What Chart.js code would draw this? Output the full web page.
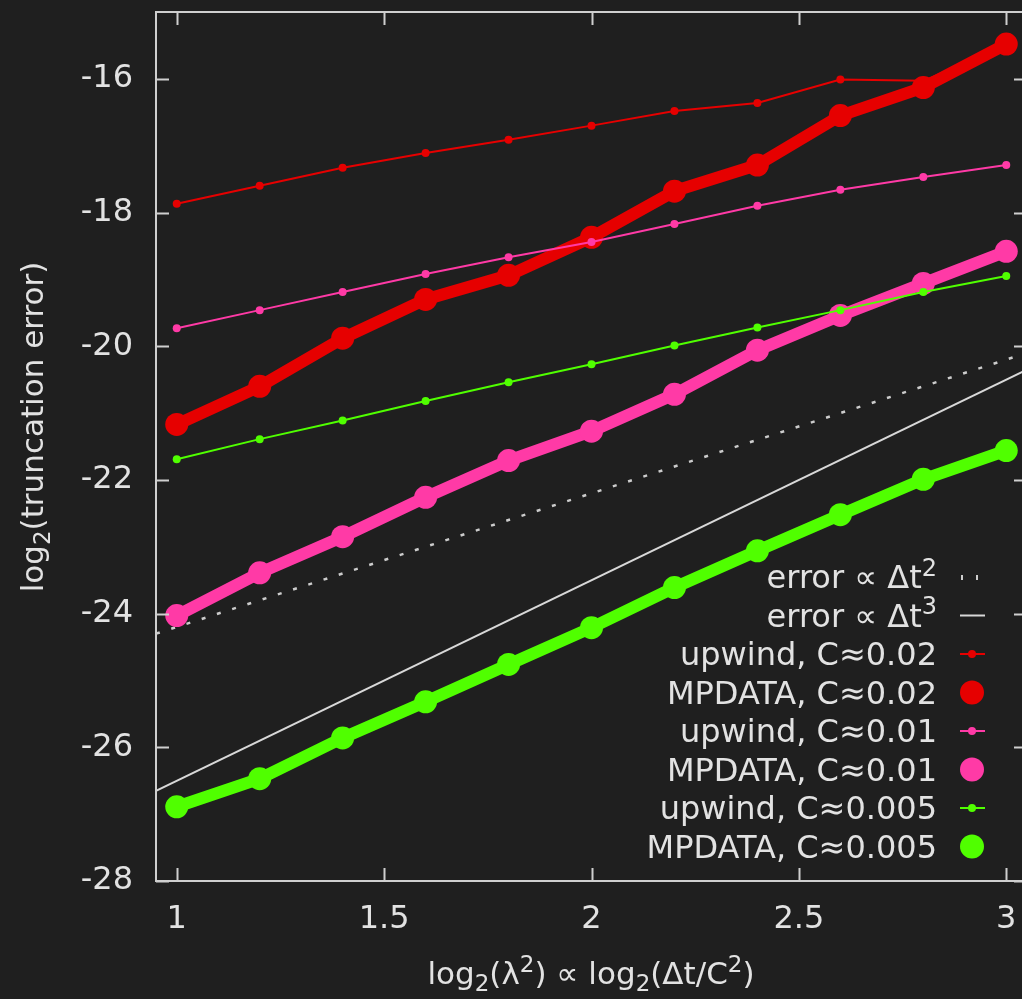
<!DOCTYPE html>
<html>
<head>
<meta charset="utf-8">
<script src="https://cdn.jsdelivr.net/npm/chart.js@4.4.0/dist/chart.umd.min.js"></script>
<style>
    html, body { margin: 0; padding: 0; background: #1f1f1f; overflow: hidden; }
    #wrap { width: 1040px; height: 999px; }
</style>
</head>
<body>
<div id="wrap"><canvas id="grafic" width="1040" height="999"></canvas></div>
<script>
// date
const xVals = [1, 1.2, 1.4, 1.6, 1.8, 2, 2.2, 2.4, 2.6, 2.8, 3];

const upwind002 = [-17.87, -17.60, -17.33, -17.11, -16.91, -16.70, -16.48, -16.36, -16.01, -16.03, -15.50];
const mpdata002 = [-21.17, -20.60, -19.88, -19.30, -18.94, -18.37, -17.68, -17.29, -16.55, -16.13, -15.48];
const upwind001 = [-19.73, -19.46, -19.19, -18.92, -18.67, -18.44, -18.17, -17.90, -17.66, -17.47, -17.29];
const mpdata001 = [-24.03, -23.39, -22.85, -22.26, -21.71, -21.27, -20.72, -20.06, -19.54, -19.06, -18.58];
const upwind0005 = [-21.69, -21.39, -21.11, -20.82, -20.54, -20.27, -19.99, -19.72, -19.46, -19.19, -18.95];
const mpdata0005 = [-26.89, -26.47, -25.86, -25.32, -24.76, -24.21, -23.61, -23.06, -22.52, -21.99, -21.56];

// dreptele de referinta (capetele)
const refX = [0.95, 3.05];
const ref2 = [-24.30, -20.10];
const ref3 = [-26.65, -20.35];

const xTicks = [1, 1.5, 2, 2.5, 3];
const xTickLabels = ['1', '1.5', '2', '2.5', '3'];
const yTicks = [-28, -26, -24, -22, -20, -18, -16];
const yTickLabels = ['-28', '-26', '-24', '-22', '-20', '-18', '-16'];

const labels = [
    'error ∝ Δt^2', 'error ∝ Δt^3',
    'upwind, C≈0.02', 'MPDATA, C≈0.02',
    'upwind, C≈0.01', 'MPDATA, C≈0.01',
    'upwind, C≈0.005', 'MPDATA, C≈0.005'
];
const xTitle = 'log_2(λ^2) ∝ log_2(Δt/C^2)';
const yTitle = 'log_2(truncation error)';

const culori = {
    alb: '#d8d8d8',
    rosu: '#e60000',
    roz: '#ff3aa6',
    verde: '#50ff00'
};

const FONT = '"DejaVu Sans", sans-serif';
const textColor = '#e2e2e2';

function puncte(xs, ys) {
    return xs.map((x, i) => ({ x: x, y: ys[i] }));
}

function subtire(label, ys, col) {
    return {
        label, kind: 'thin', data: puncte(xVals, ys),
        borderColor: col, backgroundColor: col,
        borderWidth: 2, pointRadius: 4, pointBorderWidth: 0, pointHoverRadius: 4
    };
}

function groasa(label, ys, col) {
    return {
        label, kind: 'thick', data: puncte(xVals, ys),
        borderColor: col, backgroundColor: col,
        borderWidth: 12, pointRadius: 11.5, pointBorderWidth: 0, pointHoverRadius: 11.5
    };
}

const datasets = [
    {
        label: labels[0], kind: 'dots', data: puncte(refX, ref2),
        borderColor: '#cccccc', borderWidth: 2.5, borderDash: [4, 12], pointRadius: 0
    },
    {
        label: labels[1], kind: 'line', data: puncte(refX, ref3),
        borderColor: culori.alb, borderWidth: 2, pointRadius: 0
    },
    subtire(labels[2], upwind002, culori.rosu),
    groasa(labels[3], mpdata002, culori.rosu),
    subtire(labels[4], upwind001, culori.roz),
    groasa(labels[5], mpdata001, culori.roz),
    subtire(labels[6], upwind0005, culori.verde),
    groasa(labels[7], mpdata0005, culori.verde)
];
// ultimul set desenat deasupra, ca in gnuplot
datasets.forEach((d, i) => { d.order = datasets.length - i; d.tension = 0; });

// text cu indici (_x) si exponenti (^x), un singur caracter
function bucati(s) {
    const out = [];
    let cur = '';
    for (let i = 0; i < s.length; i++) {
        const c = s[i];
        if ((c === '_' || c === '^') && i + 1 < s.length) {
            if (cur) out.push({ t: cur, k: 0 });
            cur = '';
            out.push({ t: s[i + 1], k: c === '_' ? 1 : -1 });
            i++;
        } else cur += c;
    }
    if (cur) out.push({ t: cur, k: 0 });
    return out;
}

function scrie(ctx, s, x, y, size, align) {
    const parts = bucati(s);
    const mic = Math.round(size * 0.75);
    let w = 0;
    parts.forEach(p => {
        ctx.font = (p.k ? mic : size) + 'px ' + FONT;
        p.w = ctx.measureText(p.t).width;
        w += p.w;
    });
    let cx = align === 'right' ? x - w : align === 'center' ? x - w / 2 : x;
    ctx.textAlign = 'left';
    ctx.textBaseline = 'alphabetic';
    parts.forEach(p => {
        ctx.font = (p.k ? mic : size) + 'px ' + FONT;
        const dy = p.k === 1 ? size * 0.22 : p.k === -1 ? -size * 0.38 : 0;
        ctx.fillText(p.t, cx, y + dy);
        cx += p.w;
    });
}

// chenar cu tick-uri spre interior pe toate laturile
const chenarPlugin = {
    id: 'chenar',
    afterDraw(chart) {
        const ctx = chart.ctx;
        const a = chart.chartArea;
        const sx = chart.scales.x, sy = chart.scales.y;
        ctx.save();
        ctx.strokeStyle = '#cfcfcf';
        ctx.lineWidth = 2;
        ctx.strokeRect(a.left, a.top, a.right - a.left, a.bottom - a.top);
        const L = 13;
        ctx.beginPath();
        xTicks.forEach(v => {
            const px = Math.round(sx.getPixelForValue(v)) + 0.5;
            ctx.moveTo(px, a.bottom); ctx.lineTo(px, a.bottom - L);
            ctx.moveTo(px, a.top); ctx.lineTo(px, a.top + L);
        });
        yTicks.forEach(v => {
            const py = Math.round(sy.getPixelForValue(v)) + 0.5;
            ctx.moveTo(a.left, py); ctx.lineTo(a.left + L, py);
            ctx.moveTo(a.right, py); ctx.lineTo(a.right - L, py);
        });
        ctx.stroke();

        // titluri axe
        ctx.fillStyle = textColor;
        scrie(ctx, xTitle, 591, 984, 31, 'center');
        ctx.translate(43, 427);
        ctx.rotate(-Math.PI / 2);
        scrie(ctx, yTitle, 0, 0, 31, 'center');
        ctx.restore();
    }
};

// legenda in coltul din dreapta jos
const legendaPlugin = {
    id: 'legenda',
    afterDraw(chart) {
        const ctx = chart.ctx;
        ctx.save();
        chart.data.datasets.forEach((d, i) => {
            const y = 577 + i * 38.5;
            ctx.fillStyle = textColor;
            scrie(ctx, d.label, 937, y + 11, 32, 'right');
            ctx.strokeStyle = d.borderColor;
            ctx.fillStyle = d.borderColor;
            if (d.kind === 'dots') {
                ctx.fillStyle = '#cccccc';
                ctx.fillRect(961, y - 2, 2, 5);
                ctx.fillRect(976, y - 2, 2, 5);
            } else if (d.kind === 'line') {
                ctx.lineWidth = 2;
                ctx.beginPath(); ctx.moveTo(960, y); ctx.lineTo(985, y); ctx.stroke();
            } else if (d.kind === 'thin') {
                ctx.lineWidth = 2;
                ctx.beginPath(); ctx.moveTo(960, y); ctx.lineTo(985, y); ctx.stroke();
                ctx.beginPath(); ctx.arc(972, y, 4, 0, Math.PI * 2); ctx.fill();
            } else {
                ctx.beginPath(); ctx.arc(972, y, 12, 0, Math.PI * 2); ctx.fill();
            }
        });
        ctx.restore();
    }
};

Chart.defaults.font.family = FONT;
Chart.defaults.color = textColor;

const ctx = document.getElementById('grafic').getContext('2d');
const chart = new Chart(ctx, {
    type: 'line',
    data: { datasets: datasets },
    options: {
        responsive: false,
        animation: false,
        devicePixelRatio: 1,
        layout: { padding: { top: 12, right: 13, left: 0, bottom: 0 } },
        plugins: {
            legend: { display: false },
            tooltip: { enabled: false }
        },
        scales: {
            x: {
                type: 'linear',
                min: 0.95, max: 3.05,
                grid: { display: false, drawTicks: false },
                border: { display: false },
                afterBuildTicks: s => { s.ticks = xTicks.map(v => ({ value: v })); },
                afterFit: s => { s.height = 118; s.paddingLeft = 0; s.paddingRight = 0; },
                ticks: {
                    font: { size: 32 }, color: textColor, padding: 19,
                    maxRotation: 0, autoSkip: false,
                    callback: (v) => xTickLabels[xTicks.indexOf(v)]
                }
            },
            y: {
                type: 'linear',
                min: -28, max: -15,
                grid: { display: false, drawTicks: false },
                border: { display: false },
                afterBuildTicks: s => { s.ticks = yTicks.map(v => ({ value: v })); },
                afterFit: s => { s.width = 156; s.paddingTop = 0; s.paddingBottom = 0; },
                ticks: {
                    font: { size: 32 }, color: textColor, padding: 23,
                    autoSkip: false,
                    callback: (v) => yTickLabels[yTicks.indexOf(v)]
                }
            }
        }
    },
    plugins: [chenarPlugin, legendaPlugin]
});
</script>
</body>
</html>
